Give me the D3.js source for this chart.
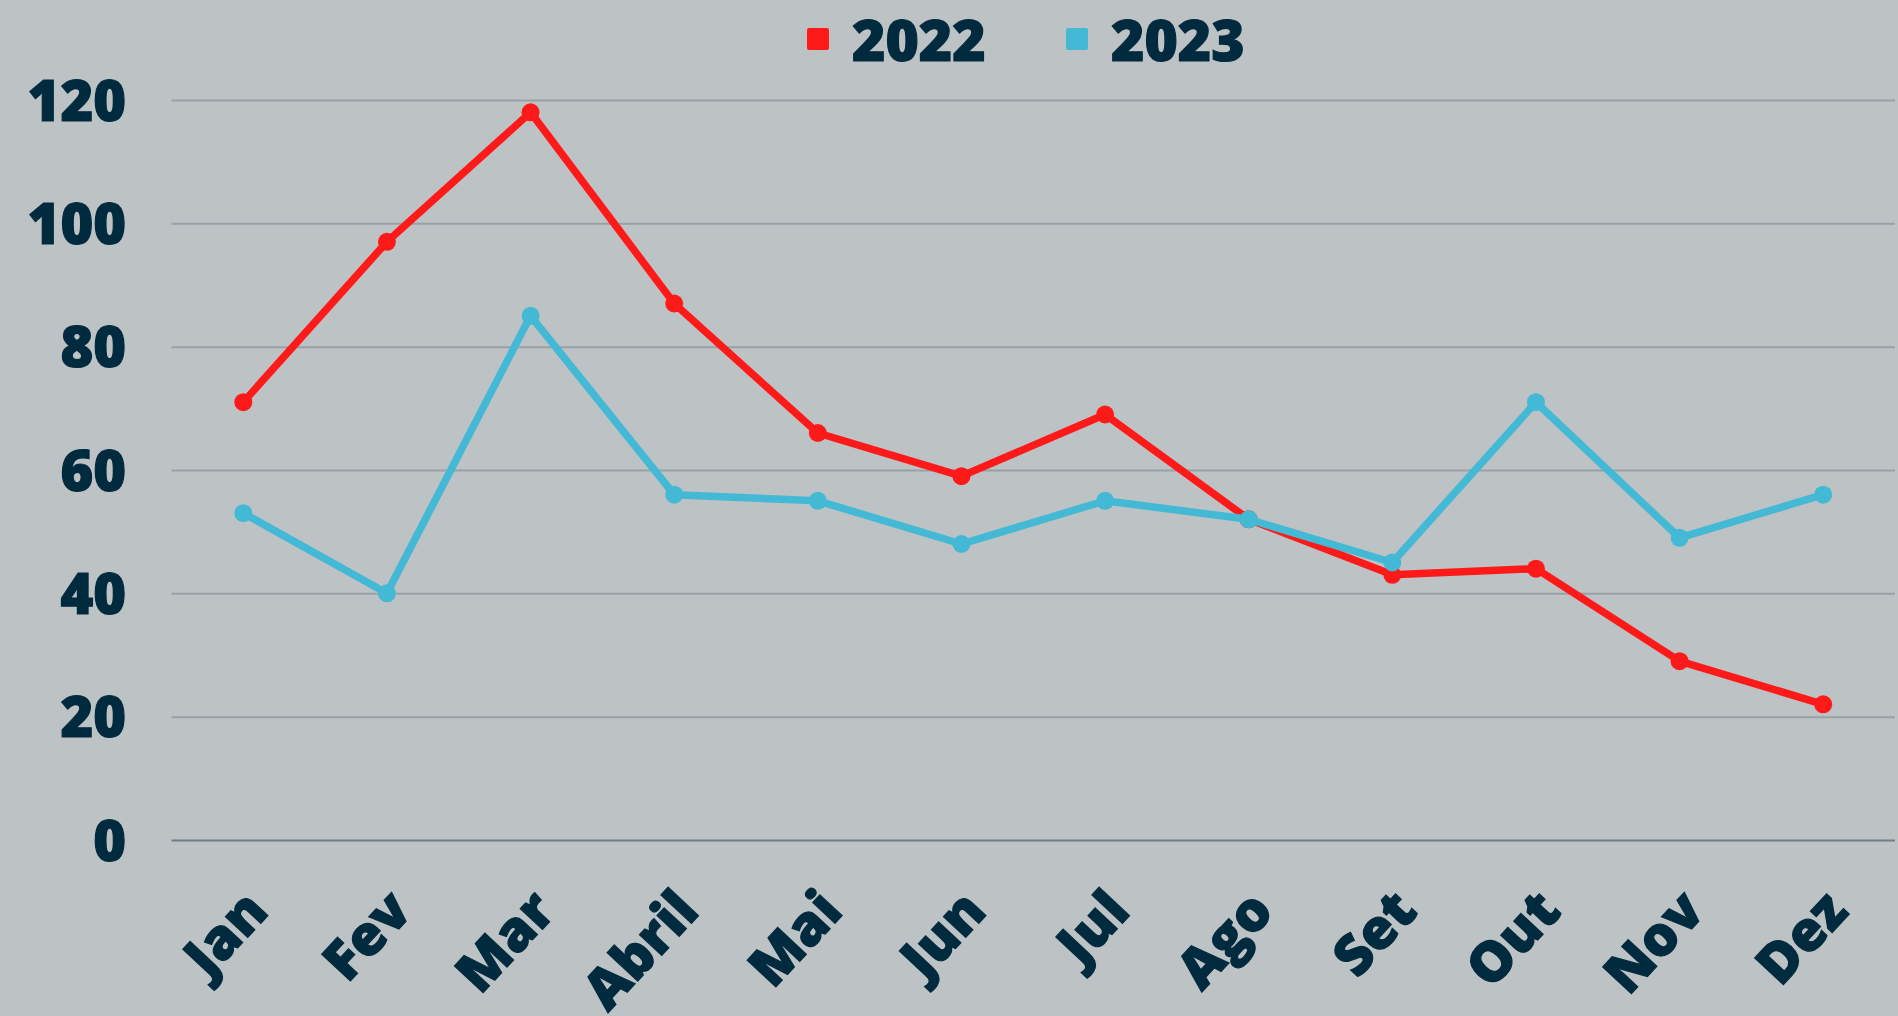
<!DOCTYPE html>
<html>
<head>
<meta charset="utf-8">
<script src="https://cdn.jsdelivr.net/npm/d3@7"></script>
<style>
  html, body { margin: 0; padding: 0; background: #bdc2c5; }
  svg text { font-family: "Open Sans", sans-serif; font-weight: 800; fill: #002a3e; stroke: #002a3e; stroke-width: 1.2px; }
</style>
</head>
<body>
<div id="chart"></div>
<script>
var months = ["Jan", "Fev", "Mar", "Abril", "Mai", "Jun", "Jul", "Ago", "Set", "Out", "Nov", "Dez"];
var v2022 = [71, 97, 118, 87, 66, 59, 69, 52, 43, 44, 29, 22];
var v2023 = [53, 40, 85, 56, 55, 48, 55, 52, 45, 71, 49, 56];
var yTicks = [0, 20, 40, 60, 80, 100, 120];
var seriesNames = ["2022", "2023"];
var colors = ["#ff1a1a", "#44b9d6"];

var W = 1898, H = 1016;

var x = d3.scaleBand().domain(months).range([171.5, 1895]);
var y = d3.scaleLinear().domain([0, 120]).range([840, 100]);

var svg = d3.select("#chart").append("svg")
    .attr("width", W)
    .attr("height", H);

svg.append("rect").attr("width", W).attr("height", H).attr("fill", "#bdc2c5");

// gridlines
var grid = svg.append("g")
    .attr("transform", "translate(" + 171.5 + ",0)")
    .call(d3.axisLeft(y).tickValues(yTicks).tickSize(-(1895 - 171.5)).tickFormat(""));
grid.select(".domain").remove();
grid.selectAll(".tick line")
    .attr("stroke", d => d === 0 ? "#6f7d85" : "#97a1a6")
    .attr("stroke-width", 2);

// y labels
var yAxis = svg.append("g")
    .attr("transform", "translate(" + 126 + ",0)")
    .call(d3.axisLeft(y).tickValues(yTicks).tickSize(0).tickPadding(0));
yAxis.select(".domain").remove();
yAxis.selectAll("text")
    .attr("font-size", 56)
    .attr("dy", "0.36em")
    .style("font-family", "'Open Sans', sans-serif");

// x labels
var xAxis = svg.append("g");
xAxis.selectAll("text")
    .data(months).enter().append("text")
    .attr("text-anchor", "end")
    .attr("font-size", 55)
    .attr("transform", m => "translate(" + (x(m) + x.bandwidth() / 2 + 27) + "," + 913 + ") rotate(-47)")
    .text(m => m);

// lines
var line = d3.line()
    .x((v, i) => x(months[i]) + x.bandwidth() / 2)
    .y(v => y(v));

[v2022, v2023].forEach(function (vals, k) {
    svg.append("path")
        .datum(vals)
        .attr("fill", "none")
        .attr("stroke", colors[k])
        .attr("stroke-width", 7.5)
        .attr("stroke-linejoin", "round")
        .attr("d", line);
    svg.append("g").selectAll("circle")
        .data(vals).enter().append("circle")
        .attr("cx", (v, i) => x(months[i]) + x.bandwidth() / 2)
        .attr("cy", v => y(v))
        .attr("r", 9)
        .attr("fill", colors[k]);
});

// legend
var legendX = [807, 1066];
var legend = svg.append("g");
seriesNames.forEach(function (name, k) {
    legend.append("rect")
        .attr("x", legendX[k]).attr("y", 28)
        .attr("width", 22).attr("height", 22)
        .attr("rx", 2)
        .attr("fill", colors[k]);
    legend.append("text")
        .attr("x", legendX[k] + 45).attr("y", 61)
        .attr("font-size", 57)
        .text(name);
});
</script>
</body>
</html>
